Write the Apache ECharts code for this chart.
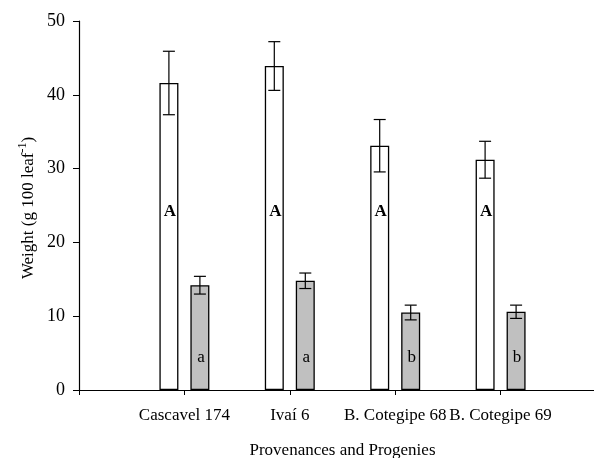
<!DOCTYPE html>
<html>
<head>
<meta charset="utf-8">
<script src="https://cdn.jsdelivr.net/npm/echarts@6/dist/echarts.min.js"></script>
<style>html,body{margin:0;padding:0;background:#fff}#c{width:594px;height:458px}</style>
</head>
<body>
<div id="c"></div>
<script>
var categories = ['Cascavel 174', 'Ivaí 6', 'B. Cotegipe 68', 'B. Cotegipe 69'];
var whiteValues = [41.6, 43.9, 33.1, 31.2];
var whiteErrors = [4.3, 3.3, 3.55, 2.5];
var grayValues = [14.2, 14.8, 10.5, 10.6];
var grayErrors = [1.2, 1.05, 1.0, 0.9];
var whiteLetters = ['A', 'A', 'A', 'A'];
var grayLetters = ['a', 'a', 'b', 'b'];
var yTicks = [0, 10, 20, 30, 40, 50];

var FONT = 'Liberation Serif';
var BAR_W = 19;
var OFFSET = 15.5;

var axisCats = [''].concat(categories).concat(['']);
function pad(arr) { return ['-'].concat(arr).concat(['-']); }

function errItem(dx) {
  return function (params, api) {
    var i = api.value(0);
    var v = api.value(1);
    var e = api.value(2);
    var top = api.coord([i, v + e]);
    var bot = api.coord([i, v - e]);
    var x = top[0] + dx;
    var cap = 6;
    var style = { stroke: '#000', lineWidth: 1.2 };
    return {
      type: 'group',
      children: [
        { type: 'line', shape: { x1: x, y1: top[1], x2: x, y2: bot[1] }, style: style },
        { type: 'line', shape: { x1: x - cap, y1: top[1], x2: x + cap, y2: top[1] }, style: style },
        { type: 'line', shape: { x1: x - cap, y1: bot[1], x2: x + cap, y2: bot[1] }, style: style }
      ]
    };
  };
}
function letterItem(dx, bold) {
  return function (params, api) {
    var i = api.value(0);
    var p = api.coord([i, api.value(1)]);
    return {
      type: 'text',
      style: {
        x: p[0] + dx, y: p[1], text: api.value(2),
        textAlign: 'center', textVerticalAlign: 'middle',
        font: (bold ? 'bold ' : '') + '17px "' + FONT + '"', fill: '#000'
      }
    };
  };
}

var whiteErrData = categories.map(function (c, i) { return [i + 1, whiteValues[i], whiteErrors[i]]; });
var grayErrData = categories.map(function (c, i) { return [i + 1, grayValues[i], grayErrors[i]]; });
var whiteLetterData = categories.map(function (c, i) { return [i + 1, 24.2, whiteLetters[i]]; });
var grayLetterData = categories.map(function (c, i) { return [i + 1, 4.4, grayLetters[i]]; });

var chart = echarts.init(document.getElementById('c'), null, { renderer: 'canvas' });
chart.setOption({
  animation: false,
  backgroundColor: '#fff',
  textStyle: { fontFamily: FONT, color: '#000' },
  grid: { left: 79, width: 527, top: 21, bottom: 68, containLabel: false, outerBoundsMode: 'none' },
  xAxis: {
    type: 'category',
    data: axisCats,
    boundaryGap: false,
    axisLine: { lineStyle: { color: '#000', width: 1.2 } },
    axisTick: { show: true, length: 5, lineStyle: { color: '#000' } },
    axisLabel: { color: '#000', fontFamily: FONT, fontSize: 17, margin: 17, interval: 0 },
    name: 'Provenances and Progenies',
    nameLocation: 'middle',
    nameGap: 52,
    nameTextStyle: { color: '#000', fontFamily: FONT, fontSize: 17 },
    splitLine: { show: false }
  },
  yAxis: {
    type: 'value',
    min: 0, max: 50, interval: 10,
    axisLine: { show: true, lineStyle: { color: '#000', width: 1.2 } },
    axisTick: { show: true, length: 6, lineStyle: { color: '#000' } },
    axisLabel: { color: '#000', fontFamily: FONT, fontSize: 18, margin: 14,
      formatter: function (v) { return yTicks.indexOf(v) >= 0 ? String(v) : ''; } },
    splitLine: { show: false }
  },
  graphic: [{
    type: 'text',
    x: 27, y: 208,
    rotation: Math.PI / 2,
    style: {
      text: '{n|Weight (g 100 leaf}{s|-1}{n|)}',
      textAlign: 'center', textVerticalAlign: 'middle',
      rich: {
        n: { fontFamily: FONT, fontSize: 17, fill: '#000', verticalAlign: 'bottom', lineHeight: 20 },
        s: { fontFamily: FONT, fontSize: 12, fill: '#000', verticalAlign: 'top', padding: [0, 0, 9, 0], lineHeight: 20 }
      }
    }
  }],
  series: [
    { type: 'bar', data: pad(whiteValues), barWidth: BAR_W, barGap: '63%',
      itemStyle: { color: '#ffffff', borderColor: '#000', borderWidth: 1.3 }, z: 2 },
    { type: 'bar', data: pad(grayValues), barWidth: BAR_W, barGap: '63%',
      itemStyle: { color: '#c0c0c0', borderColor: '#000', borderWidth: 1.3 }, z: 2 },
    { type: 'custom', data: whiteErrData, renderItem: errItem(-OFFSET), z: 5 },
    { type: 'custom', data: grayErrData, renderItem: errItem(OFFSET), z: 5 },
    { type: 'custom', data: whiteLetterData, renderItem: letterItem(-OFFSET + 1, true), z: 6 },
    { type: 'custom', data: grayLetterData, renderItem: letterItem(OFFSET + 1, false), z: 6 }
  ]
});
</script>
</body>
</html>
